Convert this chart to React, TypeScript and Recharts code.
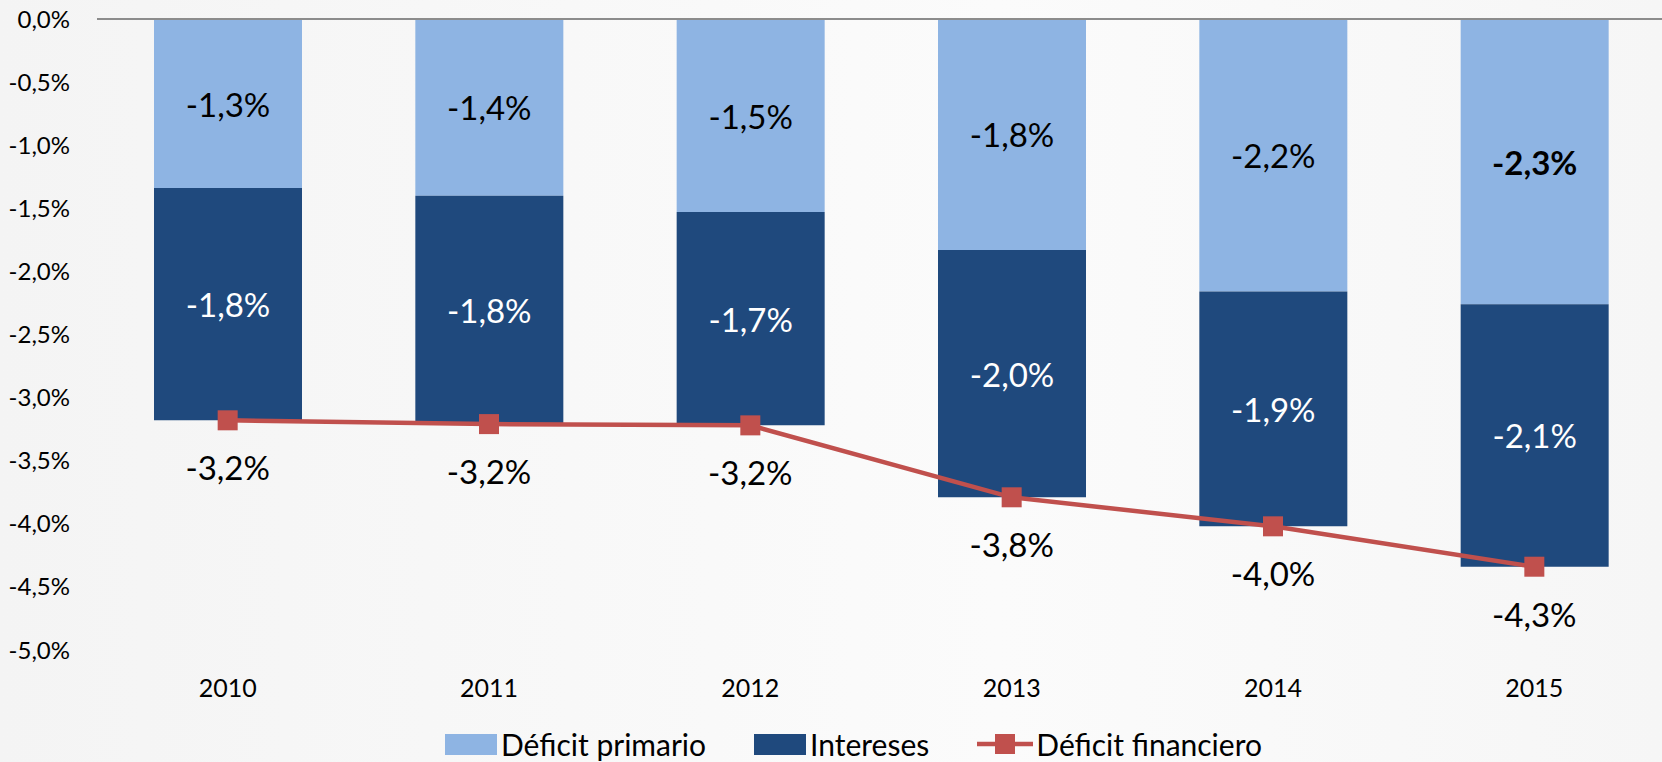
import React from "react";
import {
  Bar,
  ComposedChart,
  LabelList,
  Legend,
  Line,
  ReferenceLine,
  XAxis,
  YAxis,
} from "recharts";

const YEARS = ["2010", "2011", "2012", "2013", "2014", "2015"];
const DEFICIT_PRIMARIO = [-1.34, -1.4, -1.53, -1.83, -2.16, -2.26];
const INTERESES = [-1.84, -1.81, -1.69, -1.96, -1.86, -2.08];
const DEFICIT_FINANCIERO = [-3.18, -3.21, -3.22, -3.79, -4.02, -4.34];
const Y_TICKS = [0, -0.5, -1, -1.5, -2, -2.5, -3, -3.5, -4, -4.5, -5];
const LEGEND_ORDER = ["Déficit primario", "Intereses", "Déficit financiero"];

const LIGHT = "#8EB4E3";
const DARK = "#1F497D";
const RED = "#C0504D";
const FONT = "Lato, 'Noto Sans', sans-serif";

const rows = YEARS.map((year, i) => ({
  year,
  primario: DEFICIT_PRIMARIO[i],
  intereses: INTERESES[i],
  financiero: DEFICIT_FINANCIERO[i],
}));

function pct(v: number) {
  return `${Number(v).toFixed(1).replace(".", ",")}%`;
}

function boxOf(props: any) {
  const vb = props.viewBox || {};
  return {
    x: Number(vb.x ?? props.x ?? 0),
    y: Number(vb.y ?? props.y ?? 0),
    width: Number(vb.width ?? props.width ?? 0),
    height: Number(vb.height ?? props.height ?? 0),
  };
}

function barLabel(color: string, boldLast: boolean) {
  return (props: any) => {
    const { x, y, width, height } = boxOf(props);
    const bold = boldLast && props.index === YEARS.length - 1;
    return (
      <text
        x={x + width / 2}
        y={y + height / 2}
        textAnchor="middle"
        dominantBaseline="central"
        fill={color}
        fontSize={33}
        fontWeight={bold ? 700 : 400}
        fontFamily={FONT}
      >
        {pct(props.value)}
      </text>
    );
  };
}

function lineLabel(props: any) {
  const { x, y, width } = boxOf(props);
  return (
    <text
      x={x + width / 2}
      y={y + 47}
      textAnchor="middle"
      dominantBaseline="central"
      fill="#000"
      fontSize={33}
      fontFamily={FONT}
    >
      {pct(props.value)}
    </text>
  );
}

function squareDot(props: any) {
  const { cx, cy, index } = props;
  return <rect key={`dot-${index}`} x={cx - 10} y={cy - 10} width={20} height={20} fill={RED} />;
}

function renderLegend(props: any) {
  const items = [...(props.payload || [])].sort(
    (a: any, b: any) => LEGEND_ORDER.indexOf(a.value) - LEGEND_ORDER.indexOf(b.value),
  );
  return (
    <div style={{ display: "flex", alignItems: "center", paddingLeft: 445, height: 36, fontFamily: FONT, fontSize: 30, lineHeight: "34px", color: "#000" }}>
      {items.map((item: any) => (
        <div key={item.value} style={{ display: "flex", alignItems: "center", marginRight: 48 }}>
          {item.type === "line" ? (
            <svg width={56} height={22} style={{ marginRight: 3 }}>
              <line x1={0} y1={11} x2={56} y2={11} stroke={RED} strokeWidth={4.5} />
              <rect x={18} y={1} width={20} height={20} fill={RED} />
            </svg>
          ) : (
            <div style={{ width: 52, height: 21, background: item.color, marginRight: 4 }} />
          )}
          <span>{item.value}</span>
        </div>
      ))}
    </div>
  );
}

export default function App() {
  return (
    <div
      style={{
        position: "absolute",
        left: 0,
        top: 0,
        width: 1662,
        height: 762,
        overflow: "hidden",
        background: "linear-gradient(90deg, #f4f4f4 0%, #fbfbfb 60%, #f6f6f6 100%)",
      }}
    >
      <ComposedChart
        width={1665}
        height={762}
        data={rows}
        margin={{ top: 19, right: 0, bottom: 0, left: 0 }}
      >
        <XAxis
          dataKey="year"
          axisLine={false}
          tickLine={false}
          tickSize={0}
          tickMargin={29}
          height={76}
          tick={{ fontSize: 25, fill: "#000", fontFamily: FONT }}
        />
        <YAxis
          domain={[-5, 0]}
          ticks={Y_TICKS}
          interval={0}
          width={97}
          axisLine={false}
          tickLine={false}
          tickSize={0}
          tickMargin={27}
          tickFormatter={pct}
          tick={{ fontSize: 24, fill: "#000", fontFamily: FONT }}
        />
        <Legend
          verticalAlign="bottom"
          height={36}
          content={renderLegend}
          wrapperStyle={{ left: 0, width: 1662 }}
        />
        <Bar dataKey="primario" name="Déficit primario" stackId="d" fill={LIGHT} barSize={148} isAnimationActive={false}>
          <LabelList dataKey="primario" content={barLabel("#000", true)} />
        </Bar>
        <Bar dataKey="intereses" name="Intereses" stackId="d" fill={DARK} barSize={148} isAnimationActive={false}>
          <LabelList dataKey="intereses" content={barLabel("#fff", false)} />
        </Bar>
        <ReferenceLine y={0} stroke="#8c8c8c" strokeWidth={2} />
        <Line
          dataKey="financiero"
          name="Déficit financiero"
          type="linear"
          stroke={RED}
          strokeWidth={4.5}
          dot={squareDot}
          activeDot={false}
          legendType="line"
          isAnimationActive={false}
        >
          <LabelList dataKey="financiero" content={lineLabel} />
        </Line>
      </ComposedChart>
    </div>
  );
}
